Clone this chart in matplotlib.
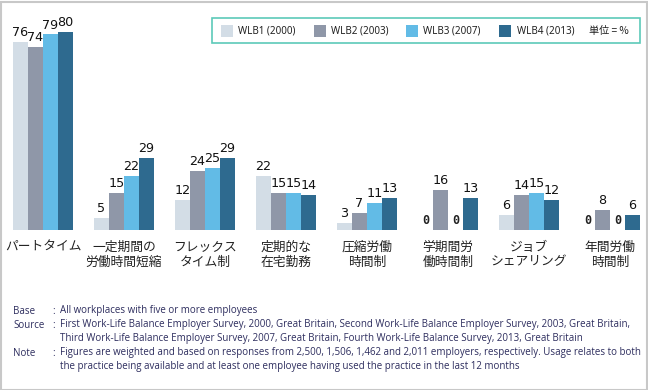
import matplotlib
matplotlib.use("Agg")
import matplotlib.pyplot as plt
from matplotlib.patches import Rectangle
import numpy as np

categories = ["パートタイム", "一定期間の\n労働時間短縮", "フレックス\nタイム制", "定期的な\n在宅勤務",
              "圧縮労働\n時間制", "学期間労\n働時間制", "ジョブ\nシェアリング", "年間労働\n時間制"]
series_names = ["WLB1 (2000)", "WLB2 (2003)", "WLB3 (2007)", "WLB4 (2013)"]
wlb1 = [76, 5, 12, 22, 3, 0, 6, 0]
wlb2 = [74, 15, 24, 15, 7, 16, 14, 8]
wlb3 = [79, 22, 25, 15, 11, 0, 15, 0]
wlb4 = [80, 29, 29, 14, 13, 13, 12, 6]
series = [wlb1, wlb2, wlb3, wlb4]
colors = ["#d3dde6", "#8f97a8", "#62bbe6", "#2e6a8f"]
unit_label = "単位 = %"
notes = [
    ("Base", "All workplaces with five or more employees"),
    ("Source", "First Work-Life Balance Employer Survey, 2000, Great Britain, Second Work-Life Balance Employer Survey, 2003, Great Britain,"),
    ("", "Third Work-Life Balance Employer Survey, 2007, Great Britain, Fourth Work-Life Balance Survey, 2013, Great Britain"),
    ("Note", "Figures are weighted and based on responses from 2,500, 1,506, 1,462 and 2,011 employers, respectively. Usage relates to both"),
    ("", "the practice being available and at least one employee having used the practice in the last 12 months"),
]

W, H = 648, 390
fig = plt.figure(figsize=(W / 100, H / 100), dpi=100)
cjk = ["Noto Sans CJK JP", "DejaVu Sans"]

# Axes: baseline at y=230px, scale ~2.475 px per unit
base_px = 230
ppu = 2.475
ax = fig.add_axes([0, (H - base_px) / H, 1, base_px / H])
ax.set_xlim(-43 / 81, (W - 43) / 81)
ax.set_ylim(0, base_px / ppu)
ax.axis("off")

bw = 15 / 81
x = np.arange(len(categories))
for i, (vals, col) in enumerate(zip(series, colors)):
    xs = x + (i - 1.5) * bw
    ax.bar(xs, vals, width=bw, color=col, edgecolor="none")
    for xi, v in zip(xs, vals):
        if v == 0:
            ax.text(xi, v + 1.2, "0", ha="center", va="bottom", fontsize=8.5,
                    family="DejaVu Sans Mono", fontweight="bold", color="#222222")
        else:
            ax.text(xi, v + 1.2, str(v), ha="center", va="bottom", fontsize=9.2,
                    family=["Liberation Sans Narrow", "DejaVu Sans"], color="#111111")

for xi, c in zip(x, categories):
    ax.text(xi, -(241 - base_px) / ppu, c, ha="center", va="top", fontsize=9.2,
            family=cjk, color="#222222", linespacing=1.15)

# Legend box
def fx(px):
    return px / W

def fy(py):
    return 1 - py / H

fig.patches.append(Rectangle((fx(212), fy(43)), fx(640) - fx(212), fy(18) - fy(43),
                             transform=fig.transFigure, facecolor="white",
                             edgecolor="#5ccab9", linewidth=1.2, zorder=5))
sw_x = [221, 314, 406, 499]
tx_x = [238, 331, 423, 517]
for sx, tx, name, col in zip(sw_x, tx_x, series_names, colors):
    fig.patches.append(Rectangle((fx(sx), fy(37)), fx(12), 12 / H,
                                 transform=fig.transFigure, facecolor=col,
                                 edgecolor="none", zorder=6))
    fig.text(fx(tx), fy(31), name, ha="left", va="center", fontsize=7.1,
             family=["Noto Sans", "DejaVu Sans"], color="#222222", zorder=7)
fig.text(fx(589), fy(31), unit_label, ha="left", va="center", fontsize=7.3,
         family=cjk, color="#222222", zorder=7)

# Footnotes
fn = ["Open Sans", "DejaVu Sans"]
ys = [311, 325, 339, 353, 367]
for (lab, txt), yy in zip(notes, ys):
    if lab:
        fig.text(fx(13), fy(yy), lab, ha="left", va="center", fontsize=7.0,
                 family=fn, color="#2d2d5e")
        fig.text(fx(52), fy(yy), ":", ha="left", va="center", fontsize=7.0,
                 family=fn, color="#2d2d5e")
    fig.text(fx(60), fy(yy), txt, ha="left", va="center", fontsize=7.0,
             family=fn, color="#2d2d5e")

# Figure border
fig.patches.append(Rectangle((0.5 / W, 0.5 / H), 1 - 2 / W, 1 - 2 / H,
                             transform=fig.transFigure, facecolor="none",
                             edgecolor="#c8c8c8", linewidth=1.5, zorder=10))

fig.savefig("out.png", dpi=100)
